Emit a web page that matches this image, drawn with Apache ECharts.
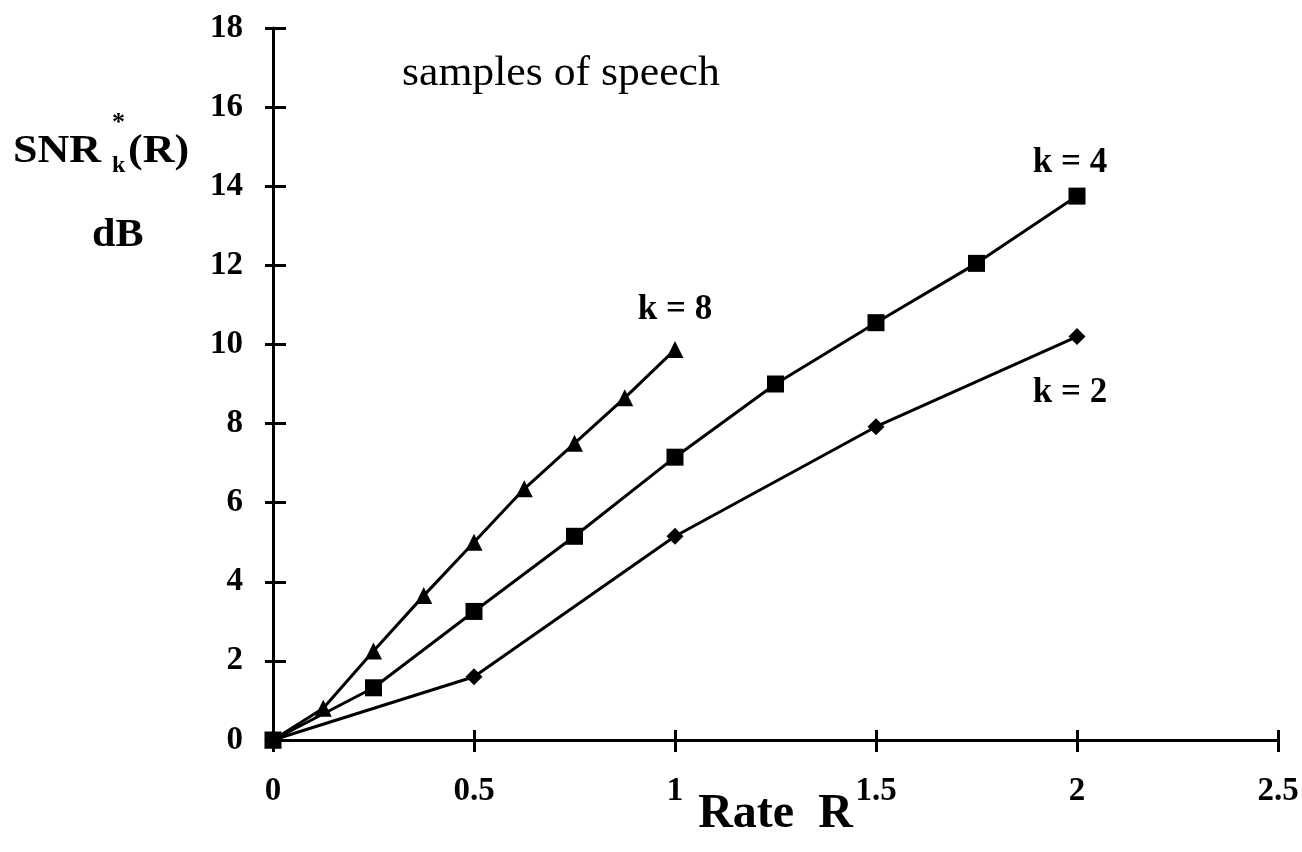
<!DOCTYPE html>
<html>
<head>
<meta charset="utf-8">
<script src="https://cdn.jsdelivr.net/npm/echarts@6/dist/echarts.min.js"></script>
<style>
html,body{margin:0;padding:0;background:#fff;}
#chart{width:1302px;height:852px;}
</style>
</head>
<body>
<div id="chart"></div>
<script>
// ---- data ----
const rateK8 = [0, 0.125, 0.25, 0.375, 0.5, 0.625, 0.75, 0.875, 1.0];
const snrK8  = [0, 0.8, 2.25, 3.65, 5.0, 6.35, 7.5, 8.65, 9.87];
const rateK4 = [0, 0.25, 0.5, 0.75, 1.0, 1.25, 1.5, 1.75, 2.0];
const snrK4  = [0, 1.32, 3.25, 5.15, 7.15, 9.0, 10.55, 12.05, 13.75];
const rateK2 = [0, 0.5, 1.0, 1.5, 2.0];
const snrK2  = [0, 1.6, 5.15, 7.92, 10.2];
const seriesLabels = ['k = 8', 'k = 4', 'k = 2'];
const xTicks = [0, 0.5, 1, 1.5, 2, 2.5];
const yTicks = [0, 2, 4, 6, 8, 10, 12, 14, 16, 18];
const annotation = 'samples of speech';
const xTitle = 'Rate  R';

const SERIF = '"Liberation Serif", "Times New Roman", serif';

function build(xs, ys, label, labelCfg) {
  return xs.map((x, i) => {
    const item = { value: [x, ys[i]] };
    if (i === xs.length - 1) {
      item.label = Object.assign({
        show: true,
        formatter: label,
        fontFamily: SERIF,
        fontWeight: 'bold',
        fontSize: 35,
        color: '#000'
      }, labelCfg);
    }
    return item;
  });
}

const chart = echarts.init(document.getElementById('chart'), null, { renderer: 'canvas' });

const axisCommon = {
  type: 'value',
  splitLine: { show: false }
};

const option = {
  backgroundColor: '#fff',
  animation: false,
  grid: { left: 273, right: 24, top: 28, bottom: 112, containLabel: false, outerBoundsMode: 'none' },
  xAxis: [
    Object.assign({}, axisCommon, {
      min: 0, max: 2.5, interval: 0.5,
      position: 'bottom',
      axisLine: { show: true, lineStyle: { color: '#000', width: 3 } },
      axisTick: { show: true, inside: false, length: 12, lineStyle: { color: '#000', width: 3 } },
      axisLabel: {
        margin: 35, fontFamily: SERIF, fontWeight: 'bold', fontSize: 33, color: '#000',
        formatter: v => (xTicks.indexOf(v) >= 0 ? String(v) : '')
      },
      name: xTitle,
      nameLocation: 'middle',
      nameGap: 51,
      nameMoveOverlap: false,
      nameTextStyle: { fontFamily: SERIF, fontWeight: 'bold', fontSize: 48, color: '#000' }
    }),
    Object.assign({}, axisCommon, {
      min: 0, max: 2.5, interval: 0.5,
      position: 'bottom',
      axisLine: { show: false },
      axisTick: { show: true, inside: true, length: 10, lineStyle: { color: '#000', width: 3 } },
      axisLabel: { show: false }
    })
  ],
  yAxis: [
    Object.assign({}, axisCommon, {
      min: 0, max: 18, interval: 2,
      position: 'left',
      axisLine: { show: true, lineStyle: { color: '#000', width: 3 } },
      axisTick: { show: true, inside: false, length: 8, lineStyle: { color: '#000', width: 3 } },
      axisLabel: {
        margin: 30, fontFamily: SERIF, fontWeight: 'bold', fontSize: 33, color: '#000',
        formatter: v => (yTicks.indexOf(v) >= 0 ? String(v) : '')
      }
    }),
    Object.assign({}, axisCommon, {
      min: 0, max: 18, interval: 2,
      position: 'left',
      axisLine: { show: false },
      axisTick: { show: true, inside: true, length: 13, lineStyle: { color: '#000', width: 3 } },
      axisLabel: { show: false }
    })
  ],
  series: [
    {
      name: seriesLabels[0], type: 'line',
      symbol: 'triangle', symbolSize: [17, 17],
      itemStyle: { color: '#000' },
      lineStyle: { color: '#000', width: 3 },
      data: build(rateK8, snrK8, seriesLabels[0], { position: 'top', distance: 14 }),
      z: 3
    },
    {
      name: seriesLabels[1], type: 'line',
      symbol: 'rect', symbolSize: 17,
      itemStyle: { color: '#000' },
      lineStyle: { color: '#000', width: 3 },
      data: build(rateK4, snrK4, seriesLabels[1], { position: 'top', distance: 7, offset: [-7, 0] }),
      z: 2
    },
    {
      name: seriesLabels[2], type: 'line',
      symbol: 'diamond', symbolSize: [17, 17],
      itemStyle: { color: '#000' },
      lineStyle: { color: '#000', width: 3 },
      data: build(rateK2, snrK2, seriesLabels[2], { position: 'bottom', distance: 30, offset: [-7, 0] }),
      z: 2
    }
  ],
  graphic: [
    {
      type: 'text', left: 402, top: 53, scaleX: 1.04,
      style: { text: annotation, font: '42px ' + SERIF, fill: '#000' }
    },
    {
      type: 'text', left: 13, top: 132, scaleX: 1.13,
      style: { text: 'SNR', font: 'bold 39px ' + SERIF, fill: '#000' }
    },
    {
      type: 'text', left: 112, top: 110,
      style: { text: '*', font: 'bold 26px ' + SERIF, fill: '#000' }
    },
    {
      type: 'text', left: 112, top: 154,
      style: { text: 'k', font: 'bold 24px ' + SERIF, fill: '#000' }
    },
    {
      type: 'text', left: 128, top: 132, scaleX: 1.13,
      style: { text: '(R)', font: 'bold 39px ' + SERIF, fill: '#000' }
    },
    {
      type: 'text', left: 92, top: 216, scaleX: 1.08,
      style: { text: 'dB', font: 'bold 39px ' + SERIF, fill: '#000' }
    }
  ]
};

chart.setOption(option);
</script>
</body>
</html>
